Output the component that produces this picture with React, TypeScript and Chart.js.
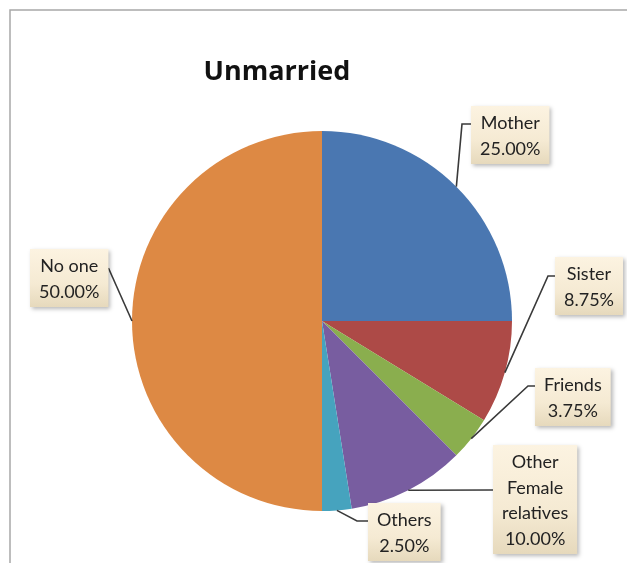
import { useEffect, useRef } from "react";
import { Chart, ArcElement, PieController } from "chart.js";

Chart.register(ArcElement, PieController);

const chartTitle = "Unmarried";
const categories = ["Mother", "Sister", "Friends", "Other Female relatives", "Others", "No one"];
const categoryLines = [["Mother"], ["Sister"], ["Friends"], ["Other", "Female", "relatives"], ["Others"], ["No one"]];
const values = [25, 8.75, 3.75, 10, 2.5, 50];
const colors = ["#4A77B1", "#AD4A47", "#8AAE4E", "#785DA0", "#46A3BE", "#DD8944"];

// label box placement relative to pie centre (layout, not data)
const labelLayout = [
  { dx: 149, dy: -215, attachDy: 18, side: "left", elbow: 9 },
  { dx: 233, dy: -64, attachDy: 19, side: "left", elbow: 7 },
  { dx: 213, dy: 47, attachDy: 18, side: "left", elbow: 7 },
  { dx: 171, dy: 124, attachDy: 45, side: "left", elbow: 0 },
  { dx: 46, dy: 182, attachDy: 18, side: "left", elbow: 11 },
  { dx: -292, dy: -72, attachDy: 19, side: "right", elbow: 0 },
];

const FONT = "Lato, 'Open Sans', sans-serif";
const TITLE_FONT = "'Open Sans', Lato, sans-serif";

const labelPlugin = {
  id: "excelLabels",
  afterDatasetsDraw(chart: any) {
    const ctx: CanvasRenderingContext2D = chart.ctx;
    const meta = chart.getDatasetMeta(0);
    const total = values.reduce((a, b) => a + b, 0);
    ctx.save();
    // frame
    ctx.strokeStyle = "#A8A8A8";
    ctx.lineWidth = 1.5;
    ctx.beginPath();
    ctx.moveTo(10, 640);
    ctx.lineTo(10, 10);
    ctx.lineTo(640, 10);
    ctx.stroke();
    // title
    ctx.fillStyle = "#111";
    ctx.font = `bold 27px ${TITLE_FONT}`;
    ctx.textAlign = "center";
    ctx.textBaseline = "alphabetic";
    ctx.fillText(chartTitle, 277, 80);

    ctx.font = `18px ${FONT}`;
    meta.data.forEach((arc: any, i: number) => {
      const { x, y, startAngle, endAngle, outerRadius } = arc.getProps(
        ["x", "y", "startAngle", "endAngle", "outerRadius"],
        true
      );
      const mid = (startAngle + endAngle) / 2;
      const ax = x + Math.cos(mid) * outerRadius;
      const ay = y + Math.sin(mid) * outerRadius;
      const lines = [...categoryLines[i], ((values[i] / total) * 100).toFixed(2) + "%"];
      const lay = labelLayout[i];
      const w = Math.max(...lines.map((l) => ctx.measureText(l).width)) + 18;
      const lh = 25.5;
      const h = lines.length * lh + 7;
      const bx = x + lay.dx;
      const by = y + lay.dy;
      // leader
      const attX = lay.side === "left" ? bx : bx + w;
      const attY = by + lay.attachDy;
      const elbX = lay.side === "left" ? attX - lay.elbow : attX + lay.elbow;
      ctx.strokeStyle = "#3A3A3A";
      ctx.lineWidth = 1.6;
      ctx.beginPath();
      ctx.moveTo(ax, ay);
      ctx.lineTo(elbX, attY);
      ctx.lineTo(attX, attY);
      ctx.stroke();
      // box
      ctx.save();
      ctx.shadowColor = "rgba(0,0,0,0.28)";
      ctx.shadowBlur = 4;
      ctx.shadowOffsetX = 2;
      ctx.shadowOffsetY = 2;
      const g = ctx.createLinearGradient(0, by, 0, by + h);
      g.addColorStop(0, "#FCF3E1");
      g.addColorStop(0.6, "#F5EAD3");
      g.addColorStop(1, "#E6D9BC");
      ctx.fillStyle = g;
      ctx.fillRect(bx, by, w, h);
      ctx.restore();
      ctx.fillStyle = "#222";
      ctx.textAlign = "center";
      lines.forEach((l, k) => {
        ctx.fillText(l, bx + w / 2, by + 23 + k * lh);
      });
    });
    ctx.restore();
  },
};

export default function App() {
  const ref = useRef<HTMLCanvasElement>(null);
  useEffect(() => {
    document.body.style.margin = "0";
    let chart: Chart | null = null;
    let cancelled = false;
    const make = () => {
      if (cancelled || !ref.current) return;
      chart = new Chart(ref.current, {
        type: "pie",
        data: {
          labels: categories,
          datasets: [
            {
              data: values,
              backgroundColor: colors,
              borderWidth: 0,
              radius: 190,
            } as any,
          ],
        },
        options: {
          animation: false,
          responsive: false,
          devicePixelRatio: 1,
          layout: { padding: { left: 132, right: 115, top: 131, bottom: 52 } },
          plugins: { legend: { display: false }, tooltip: { enabled: false } } as any,
        },
        plugins: [labelPlugin],
      });
    };
    Promise.all([
      document.fonts.load(`18px Lato`),
      document.fonts.load(`bold 27px "Open Sans"`),
    ])
      .catch(() => {})
      .then(make);
    return () => {
      cancelled = true;
      if (chart) chart.destroy();
    };
  }, []);
  return (
    <div style={{ position: "absolute", left: 0, top: 0, width: 627, height: 563, background: "#fff" }}>
      <canvas ref={ref} width={627} height={563} />
    </div>
  );
}
